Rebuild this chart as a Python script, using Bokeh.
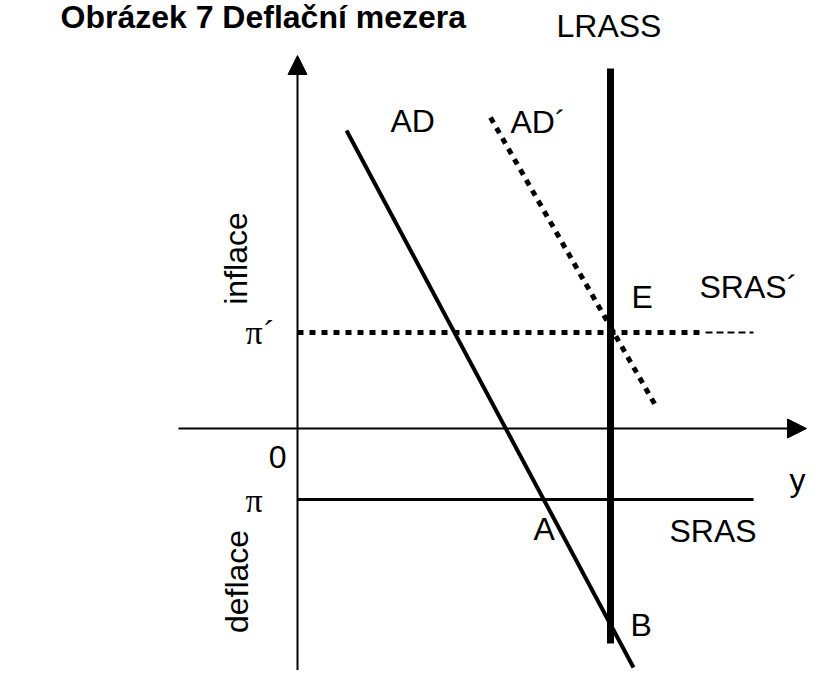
import math
from bokeh.plotting import figure
from bokeh.models import Range1d, Arrow, NormalHead
from bokeh.core.properties import value
from bokeh.embed import file_html
from bokeh.resources import INLINE

# ---- diagram data (origin at the axes intersection, 1 unit = 1 px) ----
ad_x = [49, 336]
ad_y = [298, -239]
ad2_x = [193, 358]
ad2_y = [311, 23]
lrass_x = [313, 313]
lrass_y = [360, -215]
sras_x = [0, 456]
sras_y = [-71, -71]
sras2_x = [0, 408]
sras2_y = [96, 96]
sras2_tail_x = [408, 456]
sras2_tail_y = [96, 96]

yaxis_x = [0, 0]
yaxis_y = [-262, 373]
xaxis_x = [-119, 509]
xaxis_y = [0, 0]

title_text = "Obrázek 7  Deflační mezera"
label_text = ["LRASS", "AD", "AD´", "E", "SRAS´", "SRAS", "A", "B", "y"]
label_x = [259, 93, 213, 334, 402, 372, 236, 333, 492]
label_y = [403, 308, 307, 132, 142, -102, -100, -196, -51]

pi_text = ["π´", "π"]
pi_x = [-52, -52]
pi_y = [96, -72]

zero_text = ["0"]
zero_x = [-11]
zero_y = [-28]

vert_text = ["inflace", "deflace"]
vert_x = [-62, -61]
vert_y = [170, -153]

p = figure(width=808, height=670,
           x_range=Range1d(-297, 511), y_range=Range1d(-242, 428),
           output_backend="svg", toolbar_location=None,
           x_axis_location=None, y_axis_location=None,
           min_border=0, outline_line_color=None)
p.xgrid.visible = False
p.ygrid.visible = False
p.background_fill_color = "white"
p.border_fill_color = "white"

# axes with arrow heads
p.add_layout(Arrow(end=NormalHead(size=19, fill_color="black", line_color="black", line_width=1),
                   x_start=yaxis_x[0], y_start=yaxis_y[0], x_end=yaxis_x[1], y_end=yaxis_y[1],
                   line_width=2, line_color="black"))
p.add_layout(Arrow(end=NormalHead(size=19, fill_color="black", line_color="black", line_width=1),
                   x_start=xaxis_x[0], y_start=xaxis_y[0], x_end=xaxis_x[1], y_end=xaxis_y[1],
                   line_width=2, line_color="black"))

# curves
p.line(ad_x, ad_y, line_width=4, line_color="black")
p.line(ad2_x, ad2_y, line_width=5, line_color="black", line_dash="6 6")
p.line(lrass_x, lrass_y, line_width=7, line_color="black")
p.line(sras_x, sras_y, line_width=3, line_color="black")
p.line(sras2_x, sras2_y, line_width=5, line_color="black", line_dash="6 6")
p.line(sras2_tail_x, sras2_tail_y, line_width=2, line_color="black", line_dash="7 4")

# labels
p.text(x=label_x, y=label_y, text=label_text, text_font=value("Liberation Sans"),
       text_font_size="32px", text_align="left", text_baseline="alphabetic", text_color="black")
p.text(x=zero_x, y=zero_y, text=zero_text, text_font=value("Liberation Sans"),
       text_font_size="32px", text_align="right", text_baseline="alphabetic", text_color="black")
p.text(x=pi_x, y=pi_y, text=pi_text, text_font=value("Liberation Serif"),
       text_font_size="34px", text_align="left", text_baseline="alphabetic", text_color="black")
p.text(x=vert_x, y=vert_y, text=vert_text, text_font=value("Liberation Sans"),
       text_font_size="32px", text_align="center", text_baseline="alphabetic",
       angle=math.pi / 2, text_color="black")
p.text(x=[-237], y=[412], text=[title_text], text_font=value("Liberation Sans"),
       text_font_size="32px", text_font_style="bold", text_align="left",
       text_baseline="alphabetic", text_color="black")

open("out.html", "w").write(file_html(p, INLINE))
